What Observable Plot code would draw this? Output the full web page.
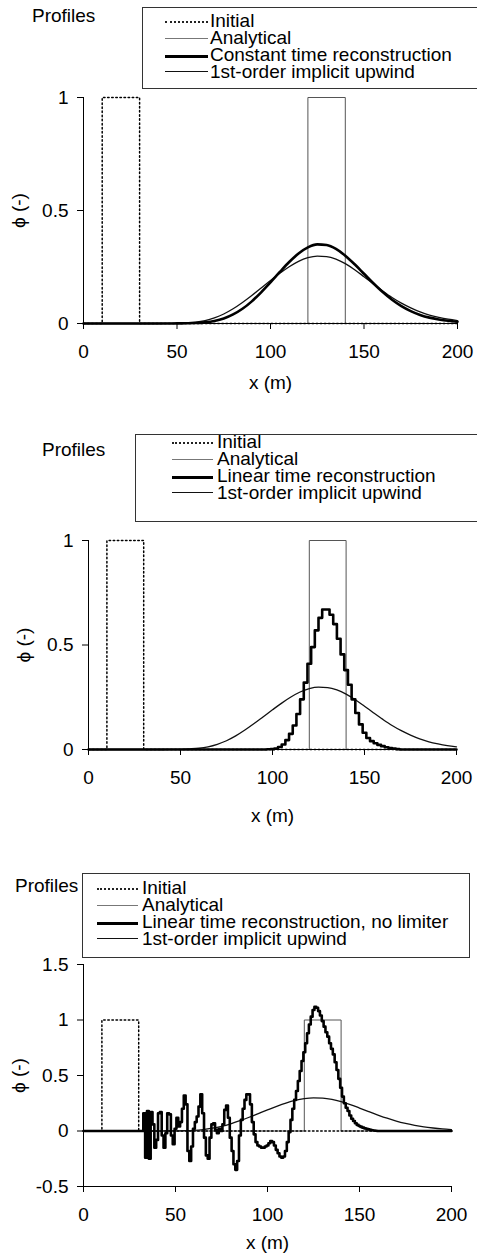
<!DOCTYPE html>
<html><head><meta charset="utf-8">
<script src="https://cdn.jsdelivr.net/npm/d3@7"></script>
<script src="https://cdn.jsdelivr.net/npm/@observablehq/plot@0.6"></script>
<style>
body{margin:0;background:#fff;}
#wrap{position:relative;width:477px;height:1256px;overflow:hidden;font-family:"Liberation Sans",Arial,sans-serif;color:#000;background:#fff;}
.t{position:absolute;font-size:19px;line-height:16px;white-space:nowrap;}
.box{position:absolute;border:1px solid #333;box-sizing:border-box;}
.smp{position:absolute;height:0;}
.plot{position:absolute;left:0;}
</style></head><body><div id="wrap"></div>
<script>
// ---------- data ----------
const xTicks = [0, 50, 100, 150, 200];
const yTicks01 = [0, 0.5, 1];
const yTicks3 = [-0.5, 0, 0.5, 1, 1.5];

const initialX = [0, 10, 10, 30, 30, 200];
const initialPhi = [0, 0, 1, 1, 0, 0];
const analyticalX = [0, 120, 120, 140, 140, 200];
const analyticalPhi = [0, 0, 1, 1, 0, 0];

// 1st-order implicit upwind (same in all panels)
const upwindX = [0, 40, 45, 50, 55, 60, 65, 70, 75, 80, 85, 90, 95, 100, 105, 110, 115, 120, 125, 130, 135, 140, 145, 150, 155, 160, 165, 170, 175, 180, 185, 190, 195, 200];
const upwindPhi = [0, 0, 0.0005, 0.001, 0.003, 0.006, 0.013, 0.025, 0.042, 0.065, 0.093, 0.124, 0.157, 0.19, 0.222, 0.251, 0.275, 0.291, 0.298, 0.296, 0.285, 0.265, 0.238, 0.207, 0.175, 0.144, 0.115, 0.09, 0.069, 0.051, 0.037, 0.027, 0.019, 0.013];

// Panel 1: constant time reconstruction
const constantX = [0, 45, 50, 55, 60, 65, 70, 75, 80, 85, 90, 95, 100, 105, 110, 115, 120, 125, 130, 135, 140, 145, 150, 155, 160, 165, 170, 175, 180, 185, 190, 195, 200];
const constantPhi = [0, 0, 0.0005, 0.001, 0.002, 0.005, 0.011, 0.022, 0.04, 0.065, 0.098, 0.138, 0.182, 0.228, 0.272, 0.31, 0.337, 0.35, 0.347, 0.33, 0.3, 0.262, 0.22, 0.178, 0.139, 0.105, 0.077, 0.055, 0.038, 0.026, 0.018, 0.012, 0.008];

// Panel 2: linear time reconstruction (2 m cells)
const linearX = [0, 96, 98, 100, 102, 104, 106, 108, 110, 112, 114, 116, 118, 120, 122, 124, 126, 128, 130, 132, 134, 136, 138, 140, 142, 144, 146, 148, 150, 152, 154, 156, 158, 160, 162, 164, 166, 168, 170, 200];
const linearPhi = [0, 0, 0.001, 0.002, 0.005, 0.012, 0.024, 0.045, 0.075, 0.115, 0.17, 0.24, 0.32, 0.41, 0.49, 0.57, 0.63, 0.67, 0.67, 0.645, 0.6, 0.53, 0.455, 0.38, 0.31, 0.24, 0.175, 0.12, 0.08, 0.055, 0.04, 0.03, 0.022, 0.016, 0.011, 0.007, 0.004, 0.002, 0, 0];

// Panel 3: linear time reconstruction, no limiter (1 m cells from x = 30 to 160)
const noLimiterStart = 30;
const noLimiterPhi = [
  0, 0, 0, 0.16, -0.24, 0.18, -0.25, 0.17, 0.06, -0.15,
  -0.08, 0.16, 0.17, -0.04, -0.15, -0.02, 0.16, 0.15, -0.04, -0.12,
  0.02, 0.12, 0.04, 0.08, 0.2, 0.32, 0.24, -0.18, -0.27, -0.14,
  0.02, 0.08, 0.13, 0.22, 0.33, 0.16, -0.06, -0.22, -0.25, -0.06,
  0.06, 0.07, 0.01, -0.02, 0.02, 0, 0.06, 0.19, 0.23, 0.12,
  -0.06, -0.18, -0.3, -0.35, -0.27, -0.04, 0.1, 0.2, 0.28, 0.33,
  0.33, 0.24, 0.08, -0.03, -0.1, -0.13, -0.14, -0.15, -0.15, -0.14,
  -0.13, -0.11, -0.09, -0.1, -0.13, -0.17, -0.2, -0.23, -0.24, -0.23,
  -0.18, -0.1, -0.01, 0.1, 0.2, 0.28, 0.36, 0.45, 0.54, 0.63,
  0.71, 0.79, 0.88, 0.96, 1.03, 1.09, 1.12, 1.11, 1.08, 1.04,
  0.99, 0.94, 0.89, 0.85, 0.79, 0.74, 0.69, 0.62, 0.55, 0.47,
  0.39, 0.31, 0.25, 0.21, 0.18, 0.14, 0.11, 0.09, 0.07, 0.055,
  0.045, 0.037, 0.03, 0.024, 0.02, 0.015, 0.01, 0.007, 0.004, 0.002,
  0
];

const legendNames1 = ["Initial", "Analytical", "Constant time reconstruction", "1st-order implicit upwind"];
const legendNames2 = ["Initial", "Analytical", "Linear time reconstruction", "1st-order implicit upwind"];
const legendNames3 = ["Initial", "Analytical", "Linear time reconstruction, no limiter", "1st-order implicit upwind"];
const titleText = "Profiles";
const xLabel = "x (m)";
const yLabel = "\u03d5 (-)";

// ---------- helpers ----------
const zip = (xs, ys) => xs.map((x, i) => ({x, y: ys[i]}));
const noLimiterData = [{x: 0, y: 0}]
  .concat(noLimiterPhi.map((y, i) => ({x: noLimiterStart + i, y})))
  .concat([{x: 200, y: 0}]);

const wrap = document.getElementById("wrap");
const FONT = '"Liberation Sans", Arial, sans-serif';

const sampleStyles = [
  "border-top:2px dotted #222;",
  "border-top:1px solid #777;",
  "border-top:3px solid #000;",
  "border-top:1.5px solid #111;"
];

function addLegend(cfg) {
  const tt = document.createElement("div");
  tt.className = "t";
  tt.style.left = cfg.titleX + "px";
  tt.style.top = (cfg.titleBase - 14.6) + "px";
  tt.textContent = titleText;
  wrap.appendChild(tt);

  const box = document.createElement("div");
  box.className = "box";
  box.style.left = cfg.box[0] + "px";
  box.style.top = cfg.box[1] + "px";
  box.style.width = (cfg.box[2] - cfg.box[0]) + "px";
  box.style.height = (cfg.box[3] - cfg.box[1]) + "px";
  wrap.appendChild(box);

  cfg.names.forEach((name, i) => {
    const base = cfg.base0 + i * 16.8;
    const s = document.createElement("div");
    s.className = "smp";
    s.style.cssText += sampleStyles[i];
    s.style.left = cfg.sample[0] + "px";
    s.style.width = (cfg.sample[1] - cfg.sample[0]) + "px";
    s.style.top = (base - 7) + "px";
    wrap.appendChild(s);
    const t = document.createElement("div");
    t.className = "t";
    t.style.left = cfg.textX + "px";
    t.style.top = (base - 14.6) + "px";
    t.textContent = name;
    wrap.appendChild(t);
  });
}

function addPlot(cfg) {
  const fmt = d => String(d);
  const chart = Plot.plot({
    width: 477,
    height: cfg.height,
    marginLeft: cfg.ml,
    marginRight: cfg.mr,
    marginTop: cfg.mt,
    marginBottom: cfg.mb,
    x: {domain: [0, 200]},
    y: {domain: cfg.yDomain},
    style: {fontFamily: FONT, fontSize: "19px", color: "#000", background: "transparent", overflow: "visible"},
    marks: [
      Plot.line(zip(analyticalX, analyticalPhi), {x: "x", y: "y", stroke: "#555", strokeWidth: 1}),
      Plot.line(zip(initialX, initialPhi), {x: "x", y: "y", stroke: "#000", strokeWidth: 1.5, strokeDasharray: "1.5,2.6"}),
      Plot.line(zip(upwindX, upwindPhi), {x: "x", y: "y", stroke: "#111", strokeWidth: 1.3, curve: "monotone-x"}),
      Plot.line(cfg.scheme, {x: "x", y: "y", stroke: "#000", strokeWidth: cfg.sw, curve: cfg.curve}),
      Plot.ruleX([0], {stroke: "#000", strokeWidth: 1}),
      Plot.ruleY([cfg.yDomain[0]], {stroke: "#000", strokeWidth: 1}),
      Plot.axisX({ticks: xTicks, tickSize: 6, tickPadding: 15, tickFormat: fmt, label: xLabel, labelAnchor: "center", labelOffset: cfg.xlo, labelArrow: "none"}),
      Plot.axisY({ticks: cfg.yTicks, tickSize: 6, tickPadding: 9, tickFormat: fmt, label: yLabel, labelAnchor: "center", labelOffset: cfg.ylo, labelArrow: "none"})
    ]
  });
  chart.classList.add("plot");
  chart.style.top = cfg.top + "px";
  chart.style.position = "absolute";
  wrap.appendChild(chart);
}

// ---------- panel 1 ----------
addPlot({top: 85, height: 310, ml: 83, mr: 20, mt: 12, mb: 72, yDomain: [0, 1], yTicks: yTicks01,
  scheme: zip(constantX, constantPhi), sw: 2.6, curve: "monotone-x", xlo: 65, ylo: 72});
addLegend({titleX: 32, titleBase: 23, box: [142, 7, 490, 89], sample: [165, 208], textX: 210, base0: 28, names: legendNames1});

// ---------- panel 2 ----------
addPlot({top: 520, height: 310, ml: 88, mr: 21, mt: 20, mb: 81, yDomain: [0, 1], yTicks: yTicks01,
  scheme: zip(linearX, linearPhi), sw: 2.6, curve: "step", xlo: 72, ylo: 72});
addLegend({titleX: 42, titleBase: 457, box: [135, 434, 490, 522], sample: [172, 213], textX: 217, base0: 449, names: legendNames2});

// ---------- panel 3 ----------
addPlot({top: 955, height: 301, ml: 83, mr: 26, mt: 9, mb: 70, yDomain: [-0.5, 1.5], yTicks: yTicks3,
  scheme: noLimiterData, sw: 2.6, curve: "step", xlo: 62, ylo: 72});
addLegend({titleX: 15, titleBase: 893, box: [82, 873, 470, 958], sample: [97, 138], textX: 142, base0: 895, names: legendNames3});
</script>
</body></html>
